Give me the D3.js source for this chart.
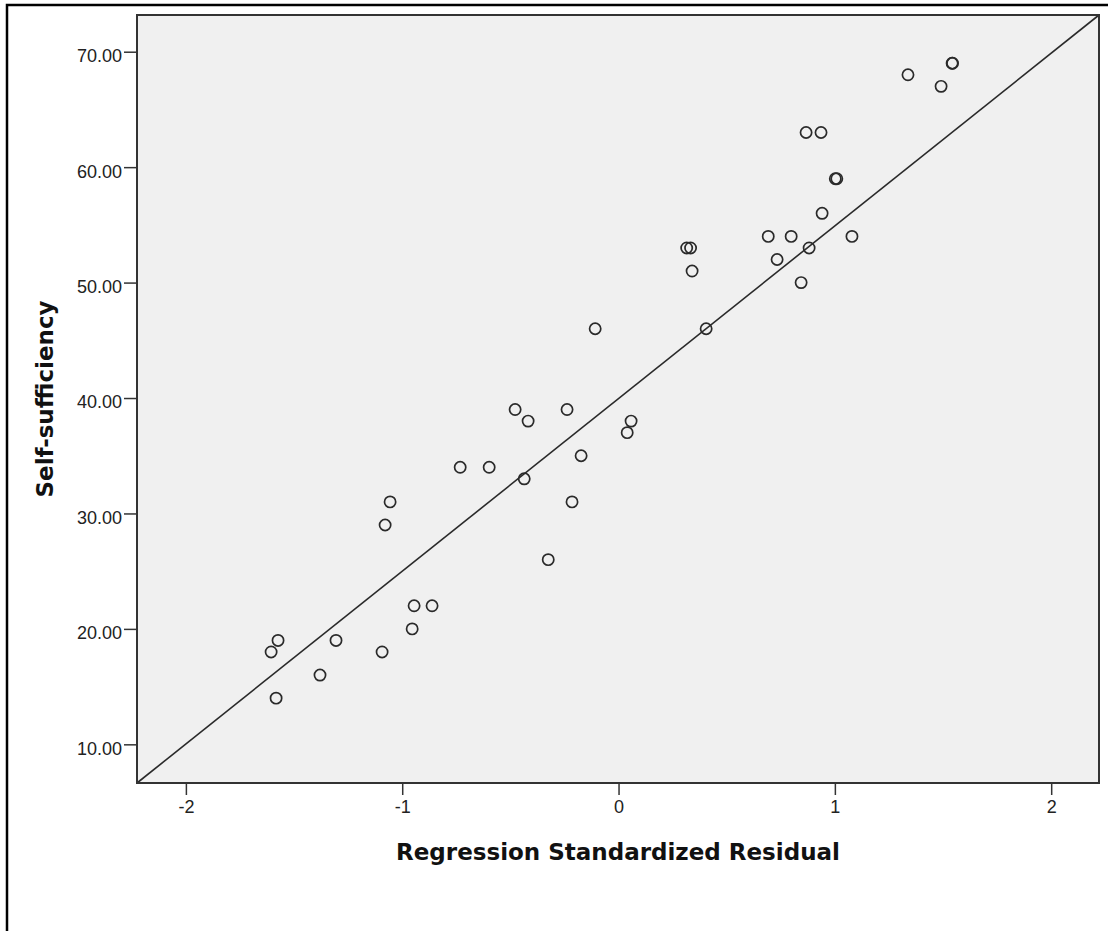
<!DOCTYPE html>

<head>
  <meta charset="utf-8">
  <title>Self-sufficiency vs Regression Standardized Residual</title>
  <style>
    body {
      margin: 0;
      background: #fff;
    }

    .tick text {
      font-family: "Liberation Sans", Arial, sans-serif;
      font-size: 18px;
      fill: #222;
    }

    .title {
      font-family: "DejaVu Sans", sans-serif;
      font-weight: bold;
      font-size: 23px;
      fill: #111;
    }
  </style>
</head>

<body>
  <div id="viz"></div>

  <script src="https://d3js.org/d3.v7.min.js"></script>

  <script>
    // data
    let residuals = [1.338, 1.542, 1.544, 1.491, 0.867, 0.936, 1.002, 1.009, 0.941, 0.692,
      0.798, 1.079, 0.733, 0.881, 0.844, 0.315, 0.333, 0.340, 0.405, -0.108,
      -0.478, -0.418, -0.238, 0.058, 0.040, -0.173, -0.732, -0.598, -0.436, -0.215,
      -1.056, -1.079, -0.325, -0.945, -0.862, -0.954, -1.306, -1.574, -1.606, -1.093,
      -1.380, -1.583];
    let selfSufficiency = [68, 69, 69, 67, 63, 63, 59, 59, 56, 54,
      54, 54, 52, 53, 50, 53, 53, 51, 46, 46,
      39, 38, 39, 38, 37, 35, 34, 34, 33, 31,
      31, 29, 26, 22, 22, 20, 19, 19, 18, 18,
      16, 14];
    let xTicks = [-2, -1, 0, 1, 2];
    let yTicks = [10, 20, 30, 40, 50, 60, 70];
    let xDomain = [-2.226, 2.221];
    let yDomain = [6.65, 73.18];

    let points = residuals.map((r, i) => ({ x: r, y: selfSufficiency[i] }));

    let margin = { top: 15, right: 9, bottom: 148, left: 137 },
      width = 1108 - margin.left - margin.right,
      height = 931 - margin.top - margin.bottom;

    let root = d3.select('#viz')
      .append('svg')
      .attr('width', 1108)
      .attr('height', 931);

    // outer frame (only left and top edges visible)
    root.append('path')
      .attr('d', 'M7,931V5H1108')
      .attr('fill', 'none')
      .attr('stroke', '#000')
      .attr('stroke-width', 2.5);

    let svg = root.append('g')
      .attr('transform', `translate(${margin.left}, ${margin.top})`);

    let x = d3.scaleLinear().domain(xDomain).range([0, width]);
    let y = d3.scaleLinear().domain(yDomain).range([height, 0]);

    svg.append('rect')
      .attr('width', width)
      .attr('height', height)
      .attr('fill', '#f0f0f0');

    // axes
    let yAxis = svg.append('g')
      .call(d3.axisLeft(y).tickValues(yTicks).tickFormat(d3.format('.2f')).tickSize(13).tickPadding(2));
    yAxis.select('.domain').remove();
    yAxis.selectAll('line').attr('stroke', '#333').attr('stroke-width', 1.5);
    yAxis.selectAll('text').attr('dy', '0.55em').attr('y', 0);

    let xAxis = svg.append('g')
      .attr('transform', `translate(0, ${height})`)
      .call(d3.axisBottom(x).tickValues(xTicks).tickFormat(d => String(d)).tickSize(12).tickPadding(5));
    xAxis.select('.domain').remove();
    xAxis.selectAll('line').attr('stroke', '#333').attr('stroke-width', 1.5);

    // fit line corner to corner
    svg.append('line')
      .attr('x1', x(xDomain[0]))
      .attr('y1', y(yDomain[0]))
      .attr('x2', x(xDomain[1]))
      .attr('y2', y(yDomain[1]))
      .attr('stroke', '#2a2a2a')
      .attr('stroke-width', 1.6);

    svg.selectAll('.dot')
      .data(points)
      .join('circle')
      .attr('class', 'dot')
      .attr('cx', d => x(d.x))
      .attr('cy', d => y(d.y))
      .attr('r', 5.6)
      .attr('fill', 'none')
      .attr('stroke', '#2a2a2a')
      .attr('stroke-width', 1.7);

    // plot frame
    svg.append('rect')
      .attr('width', width)
      .attr('height', height)
      .attr('fill', 'none')
      .attr('stroke', '#333')
      .attr('stroke-width', 2);

    svg.append('text')
      .attr('class', 'title')
      .attr('x', width / 2)
      .attr('y', height + 77)
      .attr('text-anchor', 'middle')
      .text('Regression Standardized Residual');

    svg.append('text')
      .attr('class', 'title')
      .attr('transform', `translate(${45 - margin.left + 8}, ${height / 2}) rotate(-90)`)
      .attr('text-anchor', 'middle')
      .text('Self-sufficiency');
  </script>
</body>

</html>
